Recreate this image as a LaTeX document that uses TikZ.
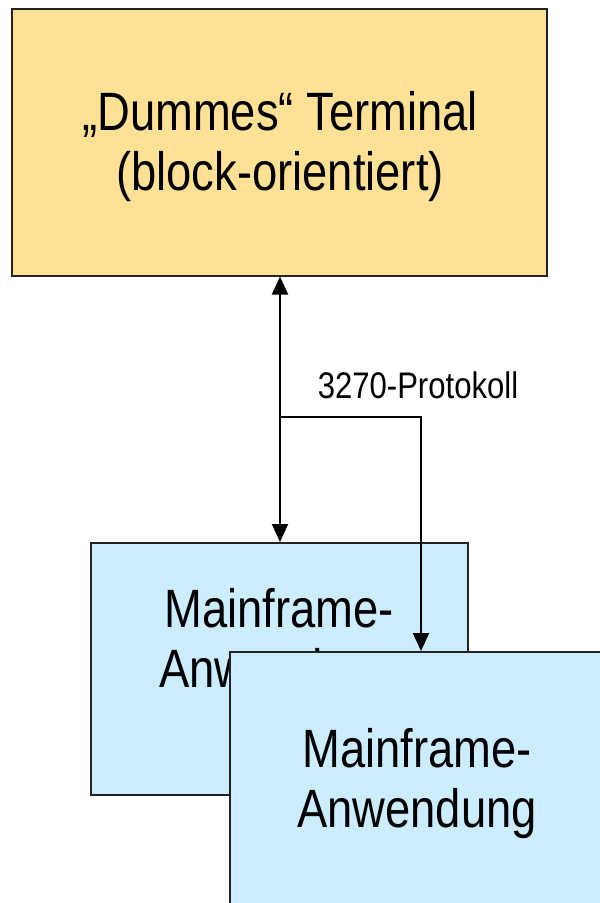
\documentclass[tikz,border=0pt]{standalone}
\usepackage{fontspec}
\setmainfont[FakeStretch=0.84]{Liberation Sans}
\usetikzlibrary{arrows.meta,calc}
\definecolor{termfill}{RGB}{255,225,150}
\definecolor{appfill}{RGB}{204,236,255}
\definecolor{edge}{RGB}{35,35,35}
\tikzset{
  box/.style={draw=edge, line width=2pt, inner sep=0pt},
  bigtext/.style={font=\fontsize{54}{60}\selectfont, align=center, inner sep=0pt, anchor=north},
  link/.style={line width=2pt, {Triangle[length=18pt,width=16pt]}-{Triangle[length=18pt,width=16pt]}},
  onearrow/.style={line width=2pt, -{Triangle[length=18pt,width=16pt]}}
}
\begin{document}
\begin{tikzpicture}[x=1pt,y=-1pt]
\useasboundingbox (0,0) rectangle (600,903);
\clip (0,0) rectangle (600,903);
\fill[white] (0,0) rectangle (600,903);

% terminal
\node[box, fill=termfill, minimum width=535pt, minimum height=267pt] (term) at (279,142) {};
\node[bigtext] (termtext) at (280,91) {„Dummes“ Terminal\\(block-orientiert)};

% first mainframe application (behind)
\node[box, fill=appfill, minimum width=377pt, minimum height=252pt] (app1) at (279.5,669) {};
\node[bigtext] (app1text) at (279,588) {Mainframe-\\Anwendung};

% connectors
\coordinate (split) at (280,417);
\draw[link] (term.south -| split) -- (app1.north -| split);
\draw[onearrow] (split) -| ($(app1.north)+(141.5,109)$);
\node[font=\fontsize{37}{40}\selectfont, anchor=base, inner sep=0pt] (proto) at (418,398) {3270-Protokoll};

% second mainframe application (front)
\node[box, fill=appfill, minimum width=377pt, minimum height=252pt] (app2) at (418.5,778) {};
\node[bigtext] (app2text) at (417,728) {Mainframe-\\Anwendung};
\end{tikzpicture}
\end{document}
